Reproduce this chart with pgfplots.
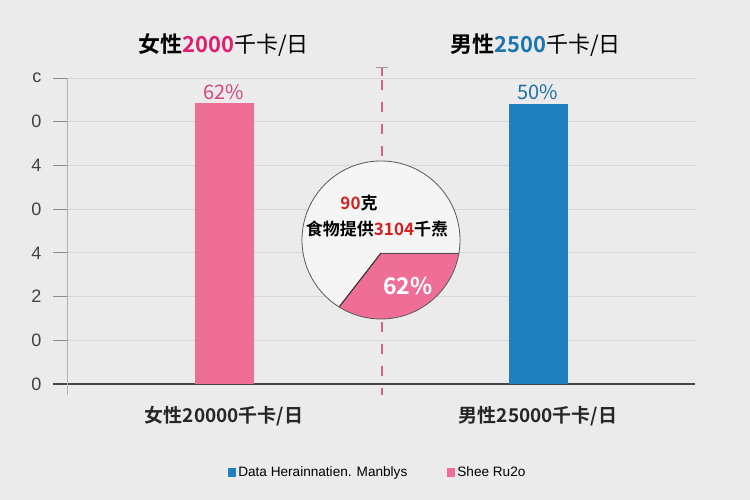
\documentclass[border=0pt]{standalone}
\usepackage{pgfplots}
\pgfplotsset{compat=1.18}
\usepackage{fontspec}
\setmainfont{Noto Sans CJK SC}[BoldFont={Noto Sans CJK SC Bold}]
\newfontfamily\lat{Liberation Sans}
\definecolor{bg}{HTML}{EBEBEB}
\definecolor{pinkbar}{HTML}{EE6E96}
\definecolor{bluebar}{HTML}{1F80BE}
\definecolor{magtxt}{HTML}{E0206E}
\definecolor{bluetxt}{HTML}{1B75B0}
\definecolor{pinklab}{HTML}{D9447E}
\definecolor{bluelab}{HTML}{1F70A8}
\definecolor{redtxt}{HTML}{D42020}
\definecolor{gridc}{HTML}{D6D6D6}
\begin{document}
\begin{tikzpicture}
\fill[bg] (0,0) rectangle (750pt,500pt);
\useasboundingbox (0,0) rectangle (750pt,500pt);
\begin{axis}[
  scale only axis,
  width=628pt, height=306pt,
  at={(67pt,116pt)}, anchor=south west,
  xmin=-0.5, xmax=1.5, ymin=0, ymax=7,
  axis x line*=bottom, axis y line*=left,
  x axis line style={draw=black!72, line width=1.3pt, shorten <=-14pt, -},
  y axis line style={draw=black!30, line width=0.8pt, shorten <=-11pt, -},
  xtick={0,1},
  xticklabels={女性20000千卡/日, 男性25000千卡/日},
  xticklabel style={font=\fontsize{19}{19}\selectfont\bfseries, text=black!85, yshift=-5pt},
  major x tick style={draw=none},
  ytick={0,...,7},
  yticklabels={0,0,2,4,0,4,0,c},
  yticklabel style={font=\lat\fontsize{18}{18}\selectfont, text=black!75, xshift=-8pt},
  /pgf/number format/assume math mode=true,
  tick align=outside,
  major tick length=14pt,
  major y tick style={draw=black!45, line width=0.8pt},
  ymajorgrids,
  grid style={draw=gridc, line width=1pt},
  ybar, bar width=59pt,
  legend image code/.code={\fill[#1, draw=none] (0pt,-4.5pt) rectangle (8pt,4.5pt);},
  legend style={at={(0.495,-0.2876)}, anchor=center, draw=none, fill=none,
    legend columns=2, font=\lat\fontsize{13.6}{13.6}\selectfont,
    /tikz/every even column/.append style={column sep=38pt},
    nodes={inner sep=2pt}},
]
\addplot[forget plot, fill=pinkbar, draw=none, bar shift=0pt,
  nodes near coords={62\%},
  every node near coord/.append style={font=\fontsize{20}{20}\selectfont, text=pinklab}]
  coordinates {(0,6.43)};
\addplot[forget plot, fill=bluebar, draw=none, bar shift=0pt,
  nodes near coords={50\%},
  every node near coord/.append style={font=\fontsize{20}{20}\selectfont, text=bluelab}]
  coordinates {(1,6.41)};
\addlegendimage{fill=bluebar, draw=none}
\addlegendimage{fill=pinkbar, draw=none}
\legend{Data Herainnatien. Manblys, Shee Ru2o}
\end{axis}
% titles
\node[font=\fontsize{22}{22}\selectfont] at (223.5pt,455pt) {\textbf{女性}\textbf{\color{magtxt}2000}千卡/日};
\node[font=\fontsize{22}{22}\selectfont] at (535.5pt,455pt) {\textbf{男性}\textbf{\color{bluetxt}2500}千卡/日};
% dashed divider
\draw[pinkbar!90!black, line width=1.4pt, dash pattern=on 10pt off 12pt] (382pt,420pt) -- (382pt,105pt);
\draw[black!40, line width=1pt] (376pt,432pt) -- (388pt,432pt);
\draw[pinkbar!90!black, line width=1.4pt] (382pt,432pt) -- (382pt,424pt);
% circle
\fill[white!50!bg] (381pt,260pt) circle[radius=79pt];
\fill[pinkbar] (381pt,247pt) -- (458.9pt,247pt) arc[start angle=-9.5, end angle=-122, radius=79pt] -- cycle;
\draw[black!70, line width=0.9pt] (381pt,247pt) -- (458.9pt,247pt);
\draw[black!85, line width=1pt] (381pt,247pt) -- (339.1pt,193pt);
\draw[black!65, line width=0.8pt] (381pt,260pt) circle[radius=79pt];
\node[font=\fontsize{17}{17}\selectfont\bfseries] at (359pt,297pt) {\color{redtxt}90\color{black}克};
\node[font=\fontsize{17}{17}\selectfont\bfseries] at (377pt,271pt) {食物提供\color{redtxt}3104\color{black}千焘};
\node[font=\fontsize{23}{23}\selectfont\bfseries, text=white] at (408pt,214pt) {62\%};
\end{tikzpicture}
\end{document}
